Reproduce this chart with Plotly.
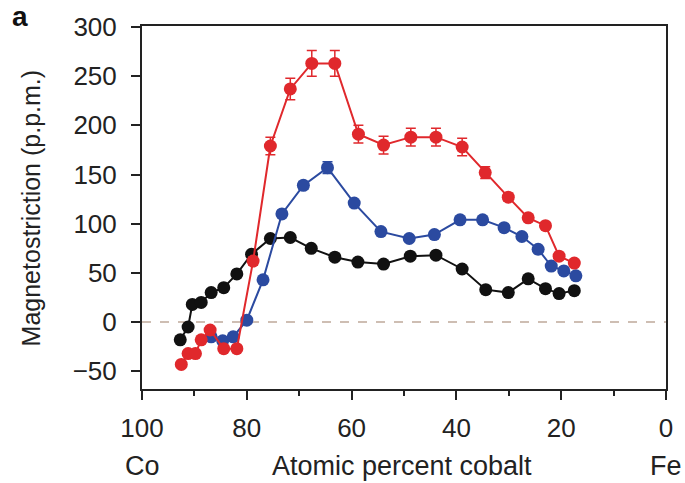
import plotly.graph_objects as go

# Data (atomic percent cobalt, magnetostriction in p.p.m.)
red_x = [92.5, 91.2, 89.8, 88.7, 87.0, 84.4, 81.9, 78.8, 75.5, 71.7, 67.6, 63.2,
         58.7, 53.9, 48.7, 43.9, 38.9, 34.5, 30.1, 26.3, 23.0, 20.4, 17.5]
red_y = [-43, -32, -32, -18, -8, -27, -27, 62, 179, 237, 263, 263,
         191, 180, 188, 188, 178, 152, 127, 106, 98, 67, 60]
red_err = [0, 0, 0, 0, 0, 0, 0, 4, 9, 11, 13, 13,
           9, 9, 9, 9, 9, 6, 4, 3, 3, 3, 3]

blue_x = [86.8, 84.6, 82.6, 80.0, 76.9, 73.3, 69.2, 64.6, 59.5, 54.4, 49.0, 44.2,
          39.3, 35.0, 30.9, 27.5, 24.4, 21.9, 19.5, 17.2]
blue_y = [-15, -19, -15, 2, 43, 110, 139, 157, 121, 92, 85, 89,
          104, 104, 96, 87, 74, 57, 52, 47]
blue_err = [0, 0, 0, 0, 0, 0, 4, 6, 0, 0, 0, 0,
            0, 0, 0, 0, 0, 0, 0, 0]

black_x = [92.7, 91.2, 90.4, 88.7, 86.8, 84.4, 81.9, 79.1, 75.5, 71.7, 67.7, 63.2,
           58.8, 53.9, 48.8, 43.9, 38.9, 34.4, 30.1, 26.3, 23.0, 20.4, 17.5]
black_y = [-18, -5, 18, 20, 30, 35, 49, 69, 85, 86, 75, 66,
           61, 59, 67, 68, 54, 33, 30, 44, 34, 29, 32]

x_ticks = [100, 80, 60, 40, 20, 0]
y_ticks = [-50, 0, 50, 100, 150, 200, 250, 300]

RED = "#e0282c"
BLUE = "#2b4aa0"
BLACK = "#111111"

fig = go.Figure()

fig.add_hline(y=0, line=dict(color="#bfa99a", width=1.5, dash="dash"), layer="below")

fig.add_trace(go.Scatter(
    x=black_x, y=black_y, mode="lines+markers",
    line=dict(color=BLACK, width=2), marker=dict(color=BLACK, size=13),
    showlegend=False))
fig.add_trace(go.Scatter(
    x=blue_x, y=blue_y, mode="lines+markers",
    line=dict(color=BLUE, width=2), marker=dict(color=BLUE, size=13),
    error_y=dict(type="data", array=blue_err, color=BLUE, thickness=1.5, width=5),
    showlegend=False))
fig.add_trace(go.Scatter(
    x=red_x, y=red_y, mode="lines+markers",
    line=dict(color=RED, width=2), marker=dict(color=RED, size=13),
    error_y=dict(type="data", array=red_err, color=RED, thickness=1.5, width=5),
    showlegend=False))

font_family = "Liberation Sans, Arial, sans-serif"

fig.update_layout(
    width=685, height=483,
    margin=dict(l=142, r=14, t=22, b=94),
    paper_bgcolor="white", plot_bgcolor="white",
    font=dict(family=font_family, color="#222222", size=26),
    xaxis=dict(
        range=[100, 0], tickmode="array", tickvals=x_ticks,
        ticks="outside", ticklen=9, tickwidth=2, tickcolor="#222",
        showline=True, linewidth=2, linecolor="#222", mirror=True,
        showgrid=False, zeroline=False,
        tickfont=dict(size=26), ticklabelstandoff=6,
        minor=dict(dtick=10, tick0=0, ticks="outside", ticklen=5, tickwidth=2,
                   tickcolor="#222", showgrid=False),
    ),
    yaxis=dict(
        range=[-68, 301], tickmode="array", tickvals=y_ticks,
        ticks="outside", ticklen=9, tickwidth=2, tickcolor="#222",
        showline=True, linewidth=2, linecolor="#222", mirror=True,
        showgrid=False, zeroline=False,
        tickfont=dict(size=26), ticklabelstandoff=9,
    ),
    annotations=[
        dict(text="Magnetostriction (p.p.m.)", xref="paper", yref="paper",
             x=-0.212, y=0.5, textangle=-90, showarrow=False,
             xanchor="center", yanchor="middle", font=dict(size=25)),
        dict(text="Atomic percent cobalt", xref="paper", yref="paper",
             x=0.497, y=-0.212, showarrow=False,
             xanchor="center", yanchor="middle", font=dict(size=27)),
        dict(text="Co", xref="paper", yref="paper",
             x=0.0, y=-0.212, showarrow=False,
             xanchor="center", yanchor="middle", font=dict(size=27)),
        dict(text="Fe", xref="paper", yref="paper",
             x=1.0, y=-0.212, showarrow=False,
             xanchor="center", yanchor="middle", font=dict(size=27)),
        dict(text="<b>a</b>", xref="paper", yref="paper",
             x=-0.232, y=1.025, showarrow=False,
             xanchor="center", yanchor="middle", font=dict(size=28, color="#111")),
    ],
)

fig.write_html("out.html")
